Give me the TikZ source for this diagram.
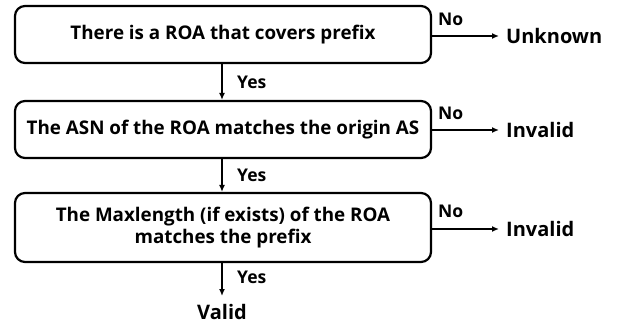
\documentclass[tikz,border=0pt]{standalone}
\usepackage{fontspec}
\setmainfont{Open Sans}
\usetikzlibrary{arrows.meta}
\begin{document}
\begin{tikzpicture}[x=1pt,y=-1pt,
  box/.style={draw,line width=2.2pt,rounded corners=10pt,minimum width=416pt,align=center,inner sep=0pt,font=\bfseries\fontsize{18.8}{22}\selectfont},
  lbl/.style={font=\bfseries\fontsize{17.5}{19}\selectfont,inner sep=0pt},
  result/.style={font=\bfseries\fontsize{20}{22}\selectfont,inner sep=0pt},
  arr/.style={line width=1.8pt,-{Latex[length=7pt,width=6pt]}}]
\useasboundingbox (0,0) rectangle (618,324);
\node[box,minimum height=57pt] (b1) at (223,34.5) {There is a ROA that covers prefix};
\node[box,minimum height=57pt] (b2) at (223,129.5) {The ASN of the ROA matches the origin AS};
\node[box,minimum height=69pt] (b3) at (223,227.5) {The Maxlength (if exists) of the ROA\\matches the prefix};
\node[result,anchor=west] (unk) at (506,36) {Unknown};
\node[result,anchor=west] (inv1) at (506,130) {Invalid};
\node[result,anchor=west] (inv2) at (506,229) {Invalid};
\node[result] (val) at (222,312) {Valid};
\coordinate (c1) at (499,36);
\coordinate (c2) at (499,130);
\coordinate (c3) at (499,229);
\coordinate (c4) at (222,296);
\draw[arr] (b1.east |- c1) -- (c1);
\draw[arr] (b2.east |- c2) -- (c2);
\draw[arr] (b3.east |- c3) -- (c3);
\draw[arr] (b1.south -| c4) -- (b2.north -| c4);
\draw[arr] (b2.south -| c4) -- (b3.north -| c4);
\draw[arr] (b3.south -| c4) -- (c4);
\node[lbl,anchor=west] (n1) at (438,19) {No};
\node[lbl,anchor=west] (n2) at (438,113) {No};
\node[lbl,anchor=west] (n3) at (438,211) {No};
\node[lbl,anchor=west] (y1) at (237,82) {Yes};
\node[lbl,anchor=west] (y2) at (237,175) {Yes};
\node[lbl,anchor=west] (y3) at (237,277) {Yes};
\end{tikzpicture}
\end{document}
